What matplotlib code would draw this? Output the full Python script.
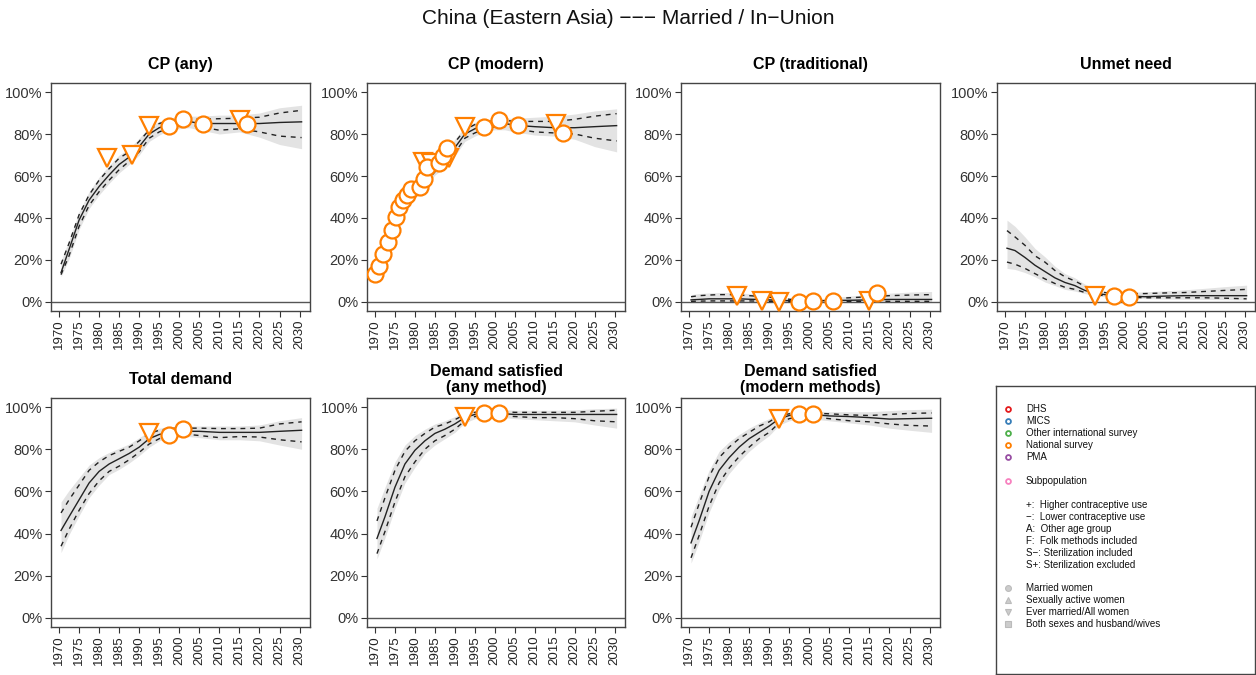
import matplotlib
matplotlib.use("Agg")
import matplotlib.pyplot as plt

plt.rcParams['font.family'] = ['Liberation Sans', 'DejaVu Sans']

# ---------------- data ----------------
years = [1970.5, 1972.5, 1975, 1977.5, 1980, 1982.5, 1985, 1987.5, 1990, 1992.5,
         1995, 1997.5, 2000, 2002.5, 2005, 2010, 2015, 2020, 2025, 2030.5]

titles = ["CP (any)", "CP (modern)", "CP (traditional)", "Unmet need",
          "Total demand", "Demand satisfied\n(any method)", "Demand satisfied\n(modern methods)"]

# CP (any)
cpany_med = [14, 25, 39, 48.5, 55, 60.5, 65.5, 69, 74, 80, 83, 84.5, 85.5, 86, 85, 85, 85, 85, 85.5, 85.8]
cpany_up = [18, 28, 41.5, 51, 58, 63.5, 68.5, 71.5, 76.5, 82, 85, 86.5, 87.5, 87.5, 87, 87.3, 87.5, 88, 90, 91.3]
cpany_lo = [13, 22, 36, 46, 52.5, 58, 63, 67, 71.5, 78, 81, 83, 84, 84.5, 83.5, 81.8, 82.5, 81, 79, 78.3]
cpany_shi = [19.5, 29.5, 43, 52.5, 59.5, 65, 70, 73, 78, 83.5, 86, 87.5, 88.5, 88.5, 88.5, 89, 89, 90, 92.5, 93.7]
cpany_slo = [12, 20.5, 34.5, 44.5, 51, 56.5, 61.5, 65.5, 70, 76.5, 79.5, 82, 82.5, 83, 82, 80, 81, 78.5, 75, 73]
cpany_obs_circ_x = [1997.4, 2000.9, 2005.9, 2016.9]
cpany_obs_circ_y = [84.0, 87.0, 85.0, 84.6]
cpany_obs_tri_x = [1982.0, 1988.3, 1992.4, 2015.2]
cpany_obs_tri_y = [68.8, 70.0, 84.0, 86.5]

# CP (modern)
cpmod_med = [14, 23, 38, 47.5, 53.5, 58.5, 64, 67.5, 73.5, 80, 82.5, 84, 85, 85, 84.2, 83.5, 83, 83, 83.5, 84]
cpmod_up = [15.5, 25, 40, 49.5, 55.5, 60.5, 66, 69.5, 76, 82, 84.5, 85.5, 86.5, 86.5, 86, 86, 86, 87, 88.5, 89.7]
cpmod_lo = [12.5, 21, 36, 45.5, 51.5, 56.5, 62, 65.5, 71, 78, 80.5, 82.5, 83.5, 83.5, 82.5, 81, 80.5, 80, 78, 76.7]
cpmod_shi = [17, 26.5, 41.5, 51, 57, 62, 67.5, 71, 77.5, 83.5, 85.5, 86.5, 87.5, 87.5, 87.5, 88, 88.5, 89.5, 91, 92]
cpmod_slo = [11, 19.5, 34.5, 44, 50, 55, 60.5, 64, 69.5, 76.5, 79, 81, 82, 82, 81, 79.5, 79, 77.5, 74, 71.5]
cpmod_obs_circ_x = [1970.0, 1971.1, 1972.1, 1973.2, 1974.2, 1975.2, 1976.1, 1977.1, 1978.1, 1979.1,
                    1981.2, 1982.2, 1983.1, 1986.0, 1987.1, 1988.1, 1997.4, 2001.0, 2005.9, 2017.0]
cpmod_obs_circ_y = [13.4, 17.2, 22.8, 28.5, 34.3, 40.7, 45.4, 48.6, 51.0, 53.8,
                    55.0, 58.4, 64.1, 66.0, 69.5, 73.4, 83.4, 86.6, 84.2, 80.7]
cpmod_obs_tri_x = [1982.0, 1984.0, 1988.5, 1992.5, 2015.2]
cpmod_obs_tri_y = [66.5, 66.0, 68.8, 83.4, 85.0]

# CP (traditional)
cptrad_med = [1, 1.2, 1.5, 1.5, 1.5, 1.5, 1.3, 1.2, 1.0, 0.8, 0.6, 0.5, 0.5, 0.6, 0.7, 0.8, 1.0, 1.2, 1.2, 1.2]
cptrad_up = [2.5, 3.0, 3.3, 3.5, 3.5, 3.3, 3.0, 2.7, 2.3, 1.8, 1.3, 1.0, 1.0, 1.2, 1.5, 2.0, 2.5, 3.0, 3.3, 3.5]
cptrad_lo = [0.3, 0.4, 0.5, 0.5, 0.5, 0.5, 0.5, 0.4, 0.3, 0.3, 0.2, 0.2, 0.2, 0.2, 0.3, 0.3, 0.3, 0.3, 0.3, 0.3]
cptrad_shi = [3.5, 4.0, 4.3, 4.5, 4.5, 4.3, 4.0, 3.6, 3.0, 2.3, 1.7, 1.3, 1.3, 1.6, 2.0, 2.8, 3.5, 4.2, 4.7, 5.0]
cptrad_slo = [0.1, 0.1, 0.1, 0.1, 0.1, 0.1, 0.1, 0.1, 0.1, 0.1, 0.1, 0.1, 0.1, 0.1, 0.1, 0.1, 0.1, 0.1, 0.1, 0.1]
cptrad_obs_circ_x = [1997.4, 2000.9, 2005.9, 2017.0]
cptrad_obs_circ_y = [0.2, 0.5, 0.6, 4.3]
cptrad_obs_tri_x = [1982.0, 1988.3, 1992.4, 2015.0]
cptrad_obs_tri_y = [2.7, 0.6, 0.1, 0.6]

# Unmet need
unmet_med = [25.6, 24.5, 21.2, 17.5, 14.5, 11.5, 9.3, 7.8, 5.5, 4.2, 3.5, 3.2, 3.0, 2.7, 2.5, 2.8, 3.0, 3.0, 3.0, 3.0]
unmet_up = [34, 31, 27, 22, 19, 15, 12, 10, 7.5, 5.5, 4.5, 4, 4, 4, 4, 4.3, 4.5, 5, 5.5, 6]
unmet_lo = [19, 18, 16, 13.5, 11, 8.8, 7, 6, 4.5, 3.5, 3, 2.7, 2.5, 2.2, 2, 2, 2, 2, 1.8, 1.5]
unmet_shi = [39, 36, 31, 25.5, 21.5, 17, 13.5, 11.5, 8.5, 6.3, 5, 4.5, 4.5, 4.7, 4.8, 5.3, 5.8, 6.5, 7.3, 8]
unmet_slo = [16, 15.5, 14, 12, 9.5, 7.8, 6, 5.2, 4, 3, 2.5, 2.2, 2, 1.8, 1.6, 1.4, 1.3, 1.2, 1.1, 1.0]
unmet_obs_circ_x = [1997.4, 2001.0]
unmet_obs_circ_y = [2.7, 2.4]
unmet_obs_tri_x = [1992.5]
unmet_obs_tri_y = [2.7]

# Total demand
tot_med = [41.5, 48, 56, 64, 69.5, 73, 75.5, 78, 81, 85, 87, 88, 88.5, 88.5, 88.5, 88, 88, 88, 88.5, 89]
tot_up = [49.8, 56, 63, 70, 74, 77, 79, 81, 84, 87.5, 89, 89.8, 90, 90, 90, 89.8, 89.8, 90, 92, 93]
tot_lo = [34, 42, 51, 59, 65, 69.5, 72, 75, 78.5, 82.5, 85, 86.5, 87, 87, 86.5, 85.5, 86, 85.8, 84.5, 83.5]
tot_shi = [55, 60.5, 66.5, 72.5, 76, 78.5, 80.5, 82.5, 85.5, 88.5, 90, 90.5, 91, 91, 91, 91, 91, 91.5, 93.5, 95]
tot_slo = [31, 39.5, 48.5, 57, 63, 68, 70.5, 73.5, 77, 81, 84, 85.5, 86, 86, 85.5, 84.5, 84.5, 84, 82, 80]
tot_obs_circ_x = [1997.4, 2001.0]
tot_obs_circ_y = [86.7, 89.4]
tot_obs_tri_x = [1992.5]
tot_obs_tri_y = [87.8]

# Demand satisfied (any method)
dsany_med = [37.7, 48, 62, 73, 79.5, 84, 87.5, 89.5, 92, 95, 96.5, 97, 97, 96.8, 96.5, 96.5, 96.5, 96.5, 96.5, 96.5]
dsany_up = [46, 57, 70, 79, 84, 87.5, 90.5, 92, 94, 96.5, 97.5, 98, 98, 97.8, 97.5, 97.5, 97.5, 97.5, 98, 98.5]
dsany_lo = [30.5, 41, 55, 67, 74, 80, 84, 86.5, 89.5, 93.5, 95.5, 96, 96, 95.8, 95.5, 95, 95, 94.5, 93.5, 93]
dsany_shi = [52, 62, 74, 82, 86.5, 89.5, 92, 93.5, 95.5, 97.5, 98.3, 98.7, 98.8, 98.7, 98.5, 98.5, 98.5, 98.7, 99.2, 99.5]
dsany_slo = [28, 38, 52, 64, 71.5, 78, 82, 85, 88, 92.5, 94.5, 95.3, 95.3, 95, 94.5, 94, 93.5, 93, 91.5, 90]
dsany_obs_circ_x = [1997.4, 2001.0]
dsany_obs_circ_y = [97.0, 97.3]
dsany_obs_tri_x = [1992.5]
dsany_obs_tri_y = [95.5]

# Demand satisfied (modern methods)
dsmod_med = [35.6, 46, 60, 70, 76, 81, 85, 88, 91, 94.5, 96, 96.5, 96.5, 96.2, 95.8, 95.5, 95, 94.3, 94.5, 94.7]
dsmod_up = [43, 54, 67, 76, 81, 85, 88, 91, 93, 96, 96.8, 97.2, 97.2, 97, 96.8, 96.3, 96, 96.5, 97, 97.2]
dsmod_lo = [28.5, 39, 53, 64, 71, 76.5, 81, 85, 88, 92.5, 94.5, 95.5, 95.5, 95, 94.5, 93.5, 93, 92, 91.3, 91]
dsmod_shi = [48, 58, 70, 79, 83.5, 87, 90, 92.5, 94.5, 97, 97.8, 98, 98, 98, 97.8, 97.8, 97.8, 98.3, 98.8, 99]
dsmod_slo = [26, 36, 50, 61, 68.5, 74, 79, 83, 86.5, 91.5, 93.5, 94.5, 94.5, 94, 93.5, 92.5, 91.5, 90, 89, 88]
dsmod_obs_circ_x = [1997.4, 2001.0]
dsmod_obs_circ_y = [96.5, 96.8]
dsmod_obs_tri_x = [1992.5]
dsmod_obs_tri_y = [94.5]

xticks = list(range(1970, 2031, 5))
yticks = [0, 20, 40, 60, 80, 100]
ytick_labels = ["0%", "20%", "40%", "60%", "80%", "100%"]

legend_sources = ["DHS", "MICS", "Other international survey", "National survey", "PMA"]
legend_source_colors = ["#E41A1C", "#377EB8", "#4DAF4A", "#FF7F00", "#984EA3"]
legend_notes = ["+:  Higher contraceptive use", "\u2212:  Lower contraceptive use",
                "A:  Other age group", "F:  Folk methods included",
                "S\u2212: Sterilization included", "S+: Sterilization excluded"]
legend_groups = ["Married women", "Sexually active women", "Ever married/All women",
                 "Both sexes and husband/wives"]
legend_group_markers = ["o", "^", "v", "s"]

panels = [
    (cpany_med, cpany_up, cpany_lo, cpany_shi, cpany_slo, cpany_obs_circ_x, cpany_obs_circ_y, cpany_obs_tri_x, cpany_obs_tri_y),
    (cpmod_med, cpmod_up, cpmod_lo, cpmod_shi, cpmod_slo, cpmod_obs_circ_x, cpmod_obs_circ_y, cpmod_obs_tri_x, cpmod_obs_tri_y),
    (cptrad_med, cptrad_up, cptrad_lo, cptrad_shi, cptrad_slo, cptrad_obs_circ_x, cptrad_obs_circ_y, cptrad_obs_tri_x, cptrad_obs_tri_y),
    (unmet_med, unmet_up, unmet_lo, unmet_shi, unmet_slo, unmet_obs_circ_x, unmet_obs_circ_y, unmet_obs_tri_x, unmet_obs_tri_y),
    (tot_med, tot_up, tot_lo, tot_shi, tot_slo, tot_obs_circ_x, tot_obs_circ_y, tot_obs_tri_x, tot_obs_tri_y),
    (dsany_med, dsany_up, dsany_lo, dsany_shi, dsany_slo, dsany_obs_circ_x, dsany_obs_circ_y, dsany_obs_tri_x, dsany_obs_tri_y),
    (dsmod_med, dsmod_up, dsmod_lo, dsmod_shi, dsmod_slo, dsmod_obs_circ_x, dsmod_obs_circ_y, dsmod_obs_tri_x, dsmod_obs_tri_y),
]

# ---------------- figure ----------------
W, H = 1256, 675
fig = plt.figure(figsize=(W / 100, H / 100), dpi=100)

def box(l, t, r, b):
    return [l / W, 1 - b / H, (r - l) / W, (b - t) / H]

lefts = [51, 367, 681, 997]
rights = [310, 625, 940, 1255]
rows = [(83, 311), (398, 627)]

ORANGE = "#FF7F00"
FRAME = "#444444"

for i, p in enumerate(panels):
    med, up, lo, shi, slo, cx, cy, tx, ty = p
    r, c = divmod(i, 4)
    t, b = rows[r]
    ax = fig.add_axes(box(lefts[c], t, rights[c], b))
    ax.fill_between(years, slo, shi, color="#E3E3E3", lw=0, zorder=1)
    ax.axhline(0, color="#555555", lw=1.0, zorder=2)
    ax.plot(years, up, color="#222222", lw=1.0, ls=(0, (3.5, 3.5)), zorder=3)
    ax.plot(years, lo, color="#222222", lw=1.0, ls=(0, (3.5, 3.5)), zorder=3)
    ax.plot(years, med, color="#222222", lw=1.0, zorder=3)
    ax.plot(tx, ty, ls="none", marker="v", ms=12.5, mfc="white", mec=ORANGE, mew=1.6, zorder=4)
    ax.plot(cx, cy, ls="none", marker="o", ms=11.5, mfc="white", mec=ORANGE, mew=1.6, zorder=5)
    ax.set_xlim(1968.0, 2032.6)
    ax.set_ylim(-4.3, 104.3)
    ax.set_xticks(xticks)
    ax.set_xticklabels([str(x) for x in xticks], rotation=90, fontsize=9.5, color="#222222")
    ax.set_yticks(yticks)
    ax.set_yticklabels(ytick_labels, fontsize=10.5, color="#333333")
    ax.tick_params(length=4, width=0.8, color="#333333", pad=2)
    for s in ax.spines.values():
        s.set_color(FRAME)
        s.set_linewidth(1.0)
    ax.set_title(titles[i], fontsize=11.5, fontweight="bold", pad=10 if "\n" not in titles[i] else 4,
                 linespacing=1.15)

# legend box
lax = fig.add_axes(box(996, 386, 1255, 674))
lax.set_xlim(0, 259)
lax.set_ylim(288, 0)
lax.set_xticks([])
lax.set_yticks([])
for s in lax.spines.values():
    s.set_color(FRAME)
    s.set_linewidth(1.0)

mx, tx0 = 12, 30
y0 = 409 - 386
for k, (lab, col) in enumerate(zip(legend_sources, legend_source_colors)):
    yy = y0 + 12 * k
    lax.plot([mx], [yy], marker="o", ms=3.5, mfc="none", mec=col, mew=1.3)
    lax.text(tx0, yy, lab, fontsize=7, va="center", ha="left", color="#111111")
yy = 481 - 386
lax.plot([mx], [yy], marker="o", ms=3.5, mfc="none", mec="#F781BF", mew=1.3)
lax.text(tx0, yy, "Subpopulation", fontsize=7, va="center", ha="left", color="#111111")
for k, lab in enumerate(legend_notes):
    yy = 505 - 386 + 12 * k
    lax.text(tx0, yy, lab, fontsize=7, va="center", ha="left", color="#111111")
for k, (lab, m) in enumerate(zip(legend_groups, legend_group_markers)):
    yy = 588 - 386 + 12 * k
    lax.plot([mx], [yy], marker=m, ms=4.2, mfc="#CCCCCC", mec="#BBBBBB", mew=0.8)
    lax.text(tx0, yy, lab, fontsize=7, va="center", ha="left", color="#111111")

fig.text(0.5, 1 - 18 / H, "China (Eastern Asia) \u2212\u2212\u2212 Married / In\u2212Union",
         ha="center", va="center", fontsize=15, color="#111111")

fig.savefig("out.png", dpi=100)
